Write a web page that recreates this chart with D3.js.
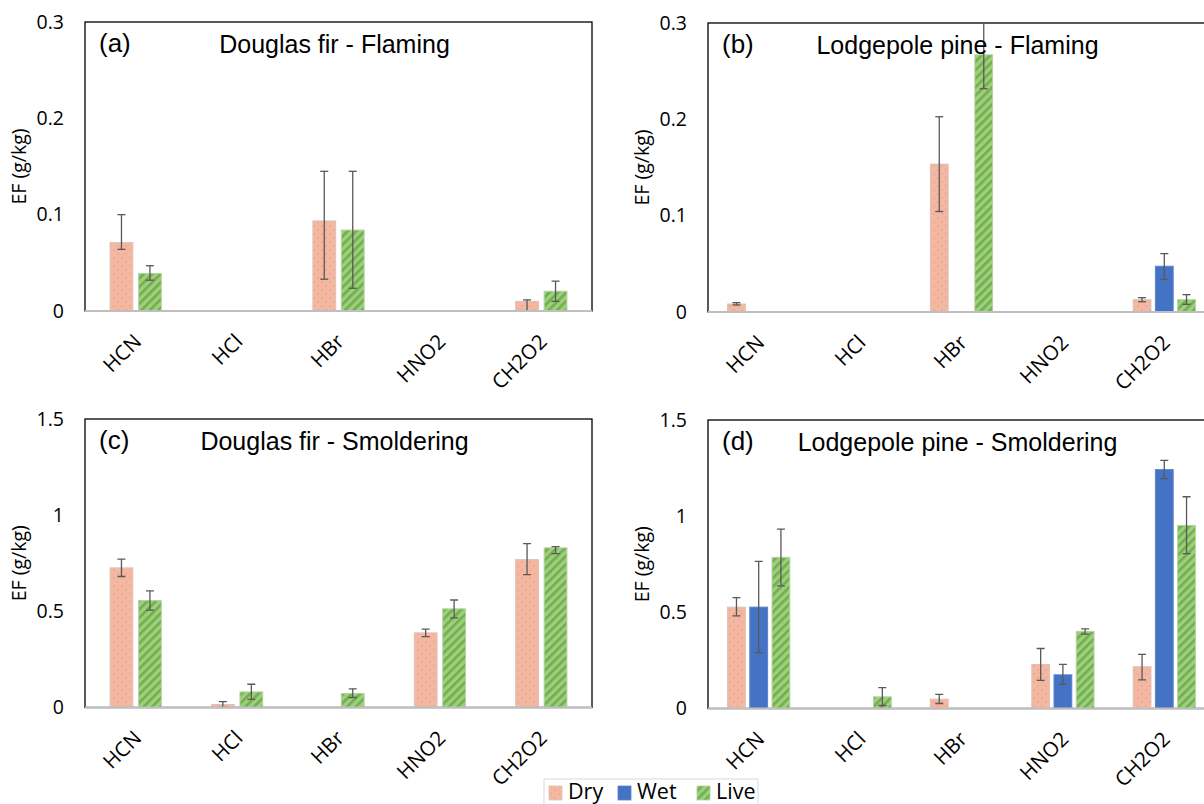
<!DOCTYPE html>
<html>
<head>
<meta charset="utf-8">
<script src="https://cdn.jsdelivr.net/npm/d3@7"></script>
<style>
  html, body { margin: 0; padding: 0; background: #ffffff; }
  svg { display: block; }
</style>
</head>
<body>
<svg id="chart" width="1204" height="804"></svg>
<script>
// ---- data -------------------------------------------------------------
const categories = ["HCN", "HCl", "HBr", "HNO2", "CH2O2"];
const seriesNames = ["Dry", "Wet", "Live"];

// (a) Douglas fir - Flaming
const dfFlamingDry      = [0.071, null, 0.0935, null, 0.010];
const dfFlamingDryRange = [[0.064, 0.100], null, [0.033, 0.145], null, [0.000, 0.0115]];
const dfFlamingLive      = [0.039, null, 0.084, null, 0.0205];
const dfFlamingLiveRange = [[0.032, 0.047], null, [0.0236, 0.145], null, [0.010, 0.031]];

// (b) Lodgepole pine - Flaming
const lpFlamingDry      = [0.0083, null, 0.1535, null, 0.0128];
const lpFlamingDryRange = [[0.0073, 0.0097], null, [0.1043, 0.2027], null, [0.0107, 0.0149]];
const lpFlamingWet      = [null, null, null, null, 0.0475];
const lpFlamingWetRange = [null, null, null, null, [0.034, 0.0606]];
const lpFlamingLive      = [null, null, 0.267, null, 0.0128];
const lpFlamingLiveRange = [null, null, [0.2318, 0.302], null, [0.008, 0.018]];

// (c) Douglas fir - Smoldering
const dfSmolderDry      = [0.726, 0.0156, null, 0.388, 0.769];
const dfSmolderDryRange = [[0.681, 0.771], [0.000, 0.031], null, [0.369, 0.407], [0.691, 0.852]];
const dfSmolderLive      = [0.556, 0.081, 0.073, 0.513, 0.830];
const dfSmolderLiveRange = [[0.506, 0.606], [0.042, 0.121], [0.052, 0.097], [0.466, 0.559], [0.800, 0.836]];

// (d) Lodgepole pine - Smoldering
const lpSmolderDry      = [0.527, null, 0.0486, 0.229, 0.217];
const lpSmolderDryRange = [[0.482, 0.576], null, [0.026, 0.073], [0.146, 0.312], [0.149, 0.281]];
const lpSmolderWet      = [0.527, null, null, 0.175, 1.242];
const lpSmolderWetRange = [[0.290, 0.765], null, null, [0.125, 0.229], [1.195, 1.290]];
const lpSmolderLive      = [0.786, 0.0607, null, 0.401, 0.952];
const lpSmolderLiveRange = [[0.638, 0.933], [0.0156, 0.109], null, [0.387, 0.414], [0.805, 1.101]];

const flamingTicks = [0, 0.1, 0.2, 0.3];
const smolderTicks = [0, 0.5, 1, 1.5];

// ---- panels -----------------------------------------------------------
const panels = [
  { tag: "(a)", title: "Douglas fir - Flaming", box: [85, 592, 22, 311], ticks: flamingTicks,
    series: [ { name: "Dry", values: dfFlamingDry, ranges: dfFlamingDryRange },
              { name: "Live", values: dfFlamingLive, ranges: dfFlamingLiveRange } ] },
  { tag: "(b)", title: "Lodgepole pine - Flaming", box: [708, 1215, 23, 312], ticks: flamingTicks,
    series: [ { name: "Dry", values: lpFlamingDry, ranges: lpFlamingDryRange },
              { name: "Wet", values: lpFlamingWet, ranges: lpFlamingWetRange },
              { name: "Live", values: lpFlamingLive, ranges: lpFlamingLiveRange } ] },
  { tag: "(c)", title: "Douglas fir - Smoldering", box: [85, 592, 419, 707.5], ticks: smolderTicks,
    series: [ { name: "Dry", values: dfSmolderDry, ranges: dfSmolderDryRange },
              { name: "Live", values: dfSmolderLive, ranges: dfSmolderLiveRange } ] },
  { tag: "(d)", title: "Lodgepole pine - Smoldering", box: [708, 1215, 420, 708.5], ticks: smolderTicks,
    series: [ { name: "Dry", values: lpSmolderDry, ranges: lpSmolderDryRange },
              { name: "Wet", values: lpSmolderWet, ranges: lpSmolderWetRange },
              { name: "Live", values: lpSmolderLive, ranges: lpSmolderLiveRange } ] }
];

const TICK_FONT = "'Open Sans', 'Noto Sans', sans-serif";
const TITLE_FONT = "'Liberation Sans', Arial, sans-serif";

const svg = d3.select("#chart");
const defs = svg.append("defs");

// Dry: salmon with a sparse dot pattern
const dotPat = defs.append("pattern").attr("id", "fill-dry")
  .attr("patternUnits", "userSpaceOnUse").attr("width", 8).attr("height", 8);
dotPat.append("rect").attr("width", 8).attr("height", 8).attr("fill", "#f4b7a2");
dotPat.append("circle").attr("cx", 2).attr("cy", 2).attr("r", 0.7).attr("fill", "#ec967a");
dotPat.append("circle").attr("cx", 6).attr("cy", 6).attr("r", 0.7).attr("fill", "#ec967a");

// Live: green with diagonal stripes
const stripePat = defs.append("pattern").attr("id", "fill-live")
  .attr("patternUnits", "userSpaceOnUse").attr("width", 6).attr("height", 6)
  .attr("patternTransform", "rotate(45)");
stripePat.append("rect").attr("width", 6).attr("height", 6).attr("fill", "#9ccf7f");
stripePat.append("rect").attr("width", 2.6).attr("height", 6).attr("fill", "#72ae4a");

const fills = { Dry: "url(#fill-dry)", Wet: "#4472c4", Live: "url(#fill-live)" };
const strokes = { Dry: "#dcc3bb", Wet: "#5b82cc", Live: "#b5d3a2" };

panels.forEach((p, i) => {
  const [left, right, top, bottom] = p.box;
  const g = svg.append("g");

  const x0 = d3.scaleBand().domain(categories).range([left, right]);
  const y = d3.scaleLinear().domain([0, d3.max(p.ticks)]).range([bottom, top]);

  const n = p.series.length;
  const barW = x0.bandwidth() / (n + 2.2 + (n - 1) * 0.25);
  const groupW = barW * (1.25 * n - 0.25);
  const x1 = d3.scaleBand().domain(p.series.map(s => s.name))
    .range([-groupW / 2, groupW / 2]).paddingInner(0.2);

  // clip region = plot area
  const clipId = "clip" + i;
  defs.append("clipPath").attr("id", clipId)
    .append("rect").attr("x", left).attr("y", top)
    .attr("width", right - left).attr("height", bottom - top);

  // plot area frame
  g.append("rect").attr("x", left).attr("y", top)
    .attr("width", right - left).attr("height", bottom - top)
    .attr("fill", "none").attr("stroke", "#000").attr("stroke-width", 1.3);

  // y tick labels
  const yAxis = d3.axisLeft(y).tickValues(p.ticks).tickFormat(d3.format("~g")).tickSize(0).tickPadding(21);
  const ya = g.append("g").attr("transform", `translate(${left},0)`).call(yAxis);
  ya.select(".domain").remove();
  ya.selectAll("text").attr("font-family", TICK_FONT).attr("font-size", 19.5).attr("fill", "#000");

  // y axis title
  g.append("text")
    .attr("transform", `translate(${left - 64},${(top + bottom) / 2}) rotate(-90)`)
    .attr("text-anchor", "middle").attr("dominant-baseline", "middle")
    .attr("font-family", TICK_FONT).attr("font-size", 19.5).attr("fill", "#000")
    .text("EF (g/kg)");

  const plot = g.append("g").attr("clip-path", `url(#${clipId})`);

  // bars
  p.series.forEach(s => {
    const items = categories.map((c, k) => ({ c, v: s.values[k], r: s.ranges[k] }))
      .filter(d => d.v !== null);
    plot.selectAll(null).data(items).enter().append("rect")
      .attr("x", d => x0(d.c) + x0.bandwidth() / 2 + x1(s.name))
      .attr("width", x1.bandwidth())
      .attr("y", d => y(d.v))
      .attr("height", d => y(0) - y(d.v))
      .attr("fill", fills[s.name])
      .attr("stroke", strokes[s.name]).attr("stroke-width", 1);
  });

  // error bars
  p.series.forEach(s => {
    const items = categories.map((c, k) => ({ c, r: s.ranges[k] })).filter(d => d.r !== null);
    const cx = d => x0(d.c) + x0.bandwidth() / 2 + x1(s.name) + x1.bandwidth() / 2;
    const eb = plot.selectAll(null).data(items).enter().append("g")
      .attr("stroke", "#595959").attr("stroke-width", 1.3);
    eb.append("line").attr("x1", cx).attr("x2", cx)
      .attr("y1", d => y(d.r[0])).attr("y2", d => y(d.r[1]));
    eb.append("line").attr("x1", d => cx(d) - 4).attr("x2", d => cx(d) + 4)
      .attr("y1", d => y(d.r[0])).attr("y2", d => y(d.r[0]));
    eb.append("line").attr("x1", d => cx(d) - 4).attr("x2", d => cx(d) + 4)
      .attr("y1", d => y(d.r[1])).attr("y2", d => y(d.r[1]));
  });

  // category axis line
  g.append("line").attr("x1", left).attr("x2", right)
    .attr("y1", y(0)).attr("y2", y(0))
    .attr("stroke", "#bfbfbf").attr("stroke-width", 2);

  // category labels, rotated
  g.selectAll(null).data(categories).enter().append("text")
    .attr("transform", c => `translate(${x0(c) + x0.bandwidth() / 2 + 3},${bottom + 28}) rotate(-45)`)
    .attr("text-anchor", "end").attr("dominant-baseline", "middle")
    .attr("font-family", TICK_FONT).attr("font-size", 20.5).attr("fill", "#000")
    .text(c => c);

  // panel tag and title
  g.append("text").attr("x", left + 14).attr("y", top + 30)
    .attr("font-family", TITLE_FONT).attr("font-size", 26).attr("fill", "#000")
    .text(p.tag);
  g.append("text").attr("x", (left + right) / 2 - 4).attr("y", top + 31)
    .attr("text-anchor", "middle")
    .attr("font-family", TITLE_FONT).attr("font-size", 25).attr("fill", "#000")
    .text(p.title);
});

// ---- legend -----------------------------------------------------------
const legend = svg.append("g");
legend.append("rect").attr("x", 544).attr("y", 779).attr("width", 214).attr("height", 40)
  .attr("fill", "#fff").attr("stroke", "#d9d9d9").attr("stroke-width", 1);
const legendX = d3.scalePoint().domain(seriesNames).range([549, 697]);
const li = legend.selectAll(null).data(seriesNames).enter().append("g")
  .attr("transform", d => `translate(${legendX(d) + (d === "Wet" ? -5 : 0)},0)`);
li.append("rect").attr("x", 0).attr("y", 786).attr("width", 13).attr("height", 14)
  .attr("fill", d => fills[d]).attr("stroke", d => strokes[d]).attr("stroke-width", 0.8);
li.append("text").attr("x", 19).attr("y", 799)
  .attr("font-family", TICK_FONT).attr("font-size", 21.5).attr("fill", "#000")
  .text(d => d);
</script>
</body>
</html>
